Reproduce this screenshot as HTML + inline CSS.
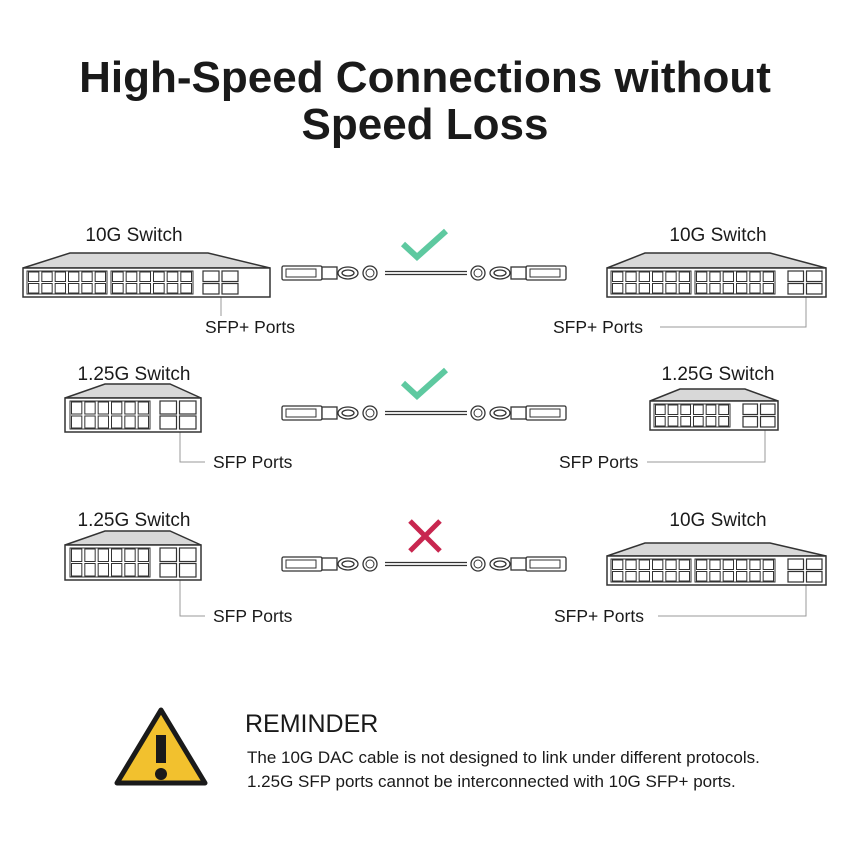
<!DOCTYPE html>
<html><head><meta charset="utf-8"><style>
html,body{margin:0;padding:0;background:#fff;width:850px;height:850px;overflow:hidden}
svg{display:block}
text{font-family:"Liberation Sans",sans-serif;fill:#1a1a1a}
</style></head><body>
<svg id="s" width="850" height="850" viewBox="0 0 850 850" xmlns="http://www.w3.org/2000/svg">
<text x="425" y="92" font-size="44" font-weight="bold" text-anchor="middle">High-Speed Connections without</text>
<text x="425" y="139" font-size="44" font-weight="bold" text-anchor="middle">Speed Loss</text>

<g font-size="19">
<text x="134" y="241" text-anchor="middle">10G Switch</text>
<text x="718" y="241" text-anchor="middle">10G Switch</text>
<text x="134" y="380" text-anchor="middle">1.25G Switch</text>
<text x="718" y="380" text-anchor="middle">1.25G Switch</text>
<text x="134" y="526" text-anchor="middle">1.25G Switch</text>
<text x="718" y="526" text-anchor="middle">10G Switch</text>
</g>
<g font-size="17.5">
<text x="205" y="333">SFP+ Ports</text>
<text x="553" y="333">SFP+ Ports</text>
<text x="213" y="468">SFP Ports</text>
<text x="559" y="468">SFP Ports</text>
<text x="213" y="622">SFP Ports</text>
<text x="554" y="622">SFP+ Ports</text>
</g>
<g stroke="#999" stroke-width="1" fill="none">
<path d="M221 297V316"/>
<path d="M806 297V327H660"/>
<path d="M180 432V462H205"/>
<path d="M765 430V462H647"/>
<path d="M180 580V616H205"/>
<path d="M806 585V616H658"/>
</g>
<g id="sw"></g>
<g id="cb"></g>
<path d="M403 244L417 257L446 231" stroke="#5ec9a0" stroke-width="6" fill="none"/>
<path d="M403 383L417 396L446 370" stroke="#5ec9a0" stroke-width="6" fill="none"/>
<path d="M410 521L440 551M440 521L410 551" stroke="#c8264f" stroke-width="5" fill="none"/>

<path d="M161 710L205 783H117Z" fill="#f2c12e" stroke="#1a1a1a" stroke-width="5" stroke-linejoin="round"/>
<rect x="156" y="735" width="10" height="28" fill="#1a1a1a"/>
<circle cx="161" cy="774" r="6" fill="#1a1a1a"/>
<text x="245" y="732" font-size="25">REMINDER</text>
<text x="247" y="763" font-size="17">The 10G DAC cable is not designed to link under different protocols.</text>
<text x="247" y="787" font-size="17">1.25G SFP ports cannot be interconnected with 10G SFP+ ports.</text>
</svg>
<script>
var NS="http://www.w3.org/2000/svg",sw=document.getElementById("sw"),cb=document.getElementById("cb");
function el(p,t,a){var e=document.createElementNS(NS,t);for(var k in a)e.setAttribute(k,a[k]);p.appendChild(e);return e;}
function sw_(x1,x2,yt,yb,yB,tl,tr,groups,sfpx){
 var g=el(sw,"g",{stroke:"#333","stroke-width":1.5,fill:"#fff"});
 el(g,"path",{d:"M"+x1+" "+yb+"L"+tl+" "+yt+"H"+tr+"L"+x2+" "+yb+"Z",fill:"#d8d8d8"});
 el(g,"rect",{x:x1,y:yb,width:x2-x1,height:yB-yb});
 var ph=(yB-yb-8)/2;
 groups.forEach(function(gr){
  var w=(gr[1]-gr[0])/6;
  el(g,"rect",{x:gr[0],y:yb+3,width:gr[1]-gr[0],height:yB-yb-6,"stroke-width":1});
  for(var r=0;r<2;r++)for(var c=0;c<6;c++)el(g,"rect",{x:gr[0]+c*w+1.5,y:yb+4+r*(ph+1),width:w-3,height:ph-1,"stroke-width":1});
 });
 var sw2=(sfpx[1]-sfpx[0]-3)/2;
 for(var r=0;r<2;r++)for(var c=0;c<2;c++)el(g,"rect",{x:sfpx[0]+c*(sw2+3),y:yb+3+r*(ph+2),width:sw2,height:ph,"stroke-width":1.2});
}
sw_(23,270,253,268,297,70,208,[[27,107],[111,193]],[203,238]);
sw_(607,826,253,268,297,645,770,[[611,691],[695,775]],[788,822]);
sw_(65,201,384,398,432,105,170,[[70,150]],[160,196]);
sw_(650,778,389,401,430,680,745,[[654,730]],[743,775]);
sw_(65,201,531,545,580,105,170,[[70,150]],[160,196]);
sw_(607,826,543,556,585,645,770,[[611,691],[695,775]],[788,822]);
function cable(y){
 var g=el(cb,"g",{stroke:"#333","stroke-width":1.3,fill:"#fff"});
 el(g,"line",{x1:385,y1:y-1.5,x2:467,y2:y-1.5});el(g,"line",{x1:385,y1:y+1.5,x2:467,y2:y+1.5});
 [[282,1],[566,-1]].forEach(function(s){
  var x=s[0],d=s[1];
  el(g,"rect",{x:d>0?x:x-40,y:y-7,width:40,height:14,rx:1.5});
  el(g,"rect",{x:d>0?x+4:x-36,y:y-4,width:30,height:8,"stroke-width":1});
  el(g,"rect",{x:d>0?x+40:x-55,y:y-6,width:15,height:12});
  el(g,"ellipse",{cx:x+d*66,cy:y,rx:10,ry:6});
  el(g,"ellipse",{cx:x+d*66,cy:y,rx:6,ry:3});
  el(g,"circle",{cx:x+d*88,cy:y,r:7});
  el(g,"circle",{cx:x+d*88,cy:y,r:4,"stroke-width":1});
 });
}
cable(273);cable(413);cable(564);
</script>
</body></html>
